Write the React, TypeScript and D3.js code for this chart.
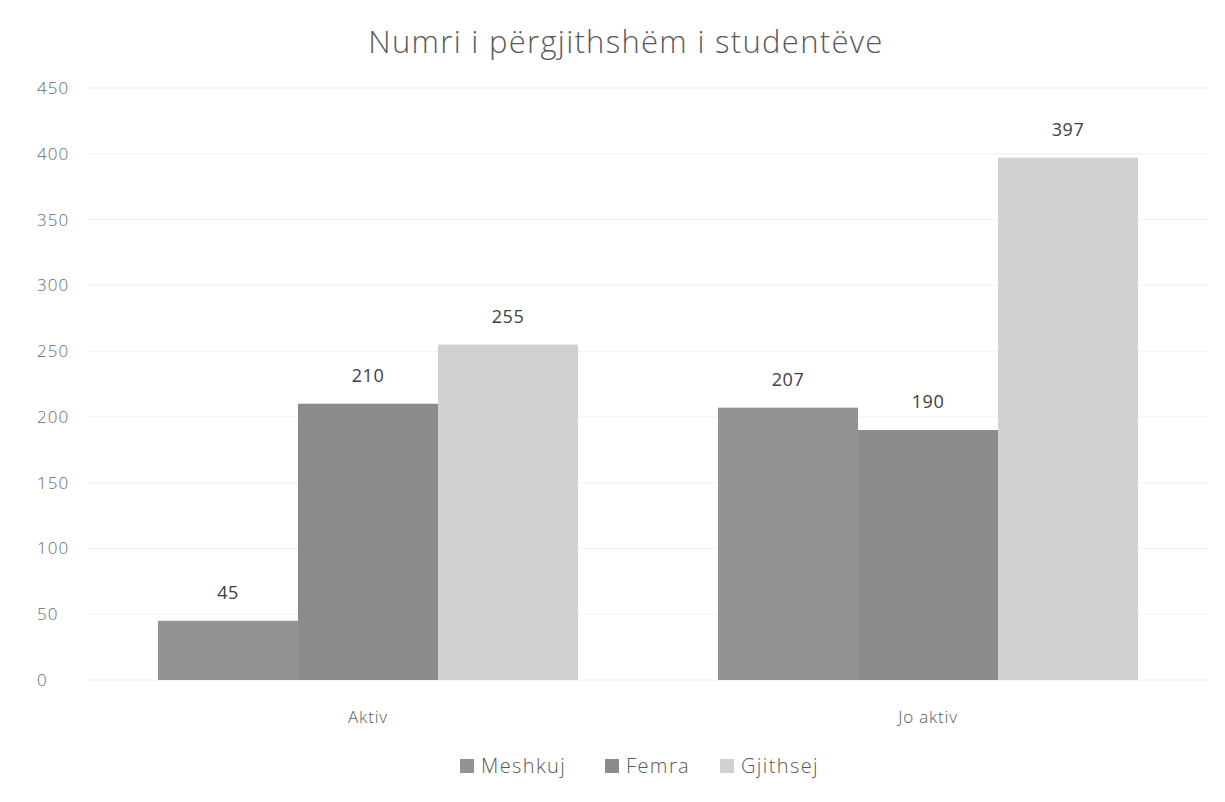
import React from 'react';
import * as d3 from 'd3';

const categories = ['Aktiv', 'Jo aktiv'];
const seriesNames = ['Meshkuj', 'Femra', 'Gjithsej'];
const meshkuj = [45, 207];
const femra = [210, 190];
const gjithsej = [255, 397];
const yTicks = [0, 50, 100, 150, 200, 250, 300, 350, 400, 450];

const colors = ['#939393', '#8b8b8b', '#d1d1d1'];
const font = "'Open Sans', 'Noto Sans', sans-serif";

const W = 1225;
const H = 802;
const margin = { top: 88, right: 17, bottom: 122, left: 88 };

export default function App() {
  const values = [meshkuj, femra, gjithsej];
  const x0 = d3.scaleBand<string>()
    .domain(categories)
    .range([margin.left, W - margin.right])
    .paddingInner(0.25)
    .paddingOuter(0.125);
  const x1 = d3.scaleBand<string>()
    .domain(seriesNames)
    .range([0, x0.bandwidth()]);
  const y = d3.scaleLinear()
    .domain([0, 450])
    .range([H - margin.bottom, margin.top]);

  // legend item positions
  const legendX = [460, 605, 720];

  return (
    <svg width={W} height={H} style={{ position: 'absolute', left: 0, top: 0, background: '#fff' }} fontFamily={font}>
      <rect x={0} y={0} width={W} height={H} fill="#fff" />
      <text x={626} y={53} textAnchor="middle" fontSize={31} fill="#5a5a5a" fontWeight={300} letterSpacing={1.3}>
        Numri i përgjithshëm i studentëve
      </text>

      {yTicks.map(t => (
        <g key={t}>
          <line x1={margin.left} x2={W - margin.right} y1={y(t)} y2={y(t)} stroke="#f1f1f1" strokeWidth={1} />
          <text x={37} y={y(t) + 6} fontSize={17} fill="#6a6a6a" fontWeight={300} letterSpacing={1}>{t}</text>
        </g>
      ))}

      {categories.map((c, ci) => (
        <g key={c} transform={`translate(${x0(c)},0)`}>
          {seriesNames.map((s, si) => {
            const v = values[si][ci];
            return (
              <g key={s}>
                <rect x={x1(s)} y={y(v)} width={x1.bandwidth()} height={y(0) - y(v)} fill={colors[si]} />
                <text x={(x1(s) as number) + x1.bandwidth() / 2} y={y(v) - 22} textAnchor="middle" fontSize={18} fill="#404040" letterSpacing={0.5}>
                  {v}
                </text>
              </g>
            );
          })}
          <text x={x0.bandwidth() / 2} y={723} textAnchor="middle" fontSize={17} fill="#595959" fontWeight={300} letterSpacing={0.8}>{c}</text>
        </g>
      ))}

      {seriesNames.map((s, i) => (
        <g key={s}>
          <rect x={legendX[i]} y={759} width={14} height={14} fill={colors[i]} />
          <text x={legendX[i] + 21} y={773} fontSize={20} fill="#595959" fontWeight={300} letterSpacing={1.4}>{s}</text>
        </g>
      ))}
    </svg>
  );
}
